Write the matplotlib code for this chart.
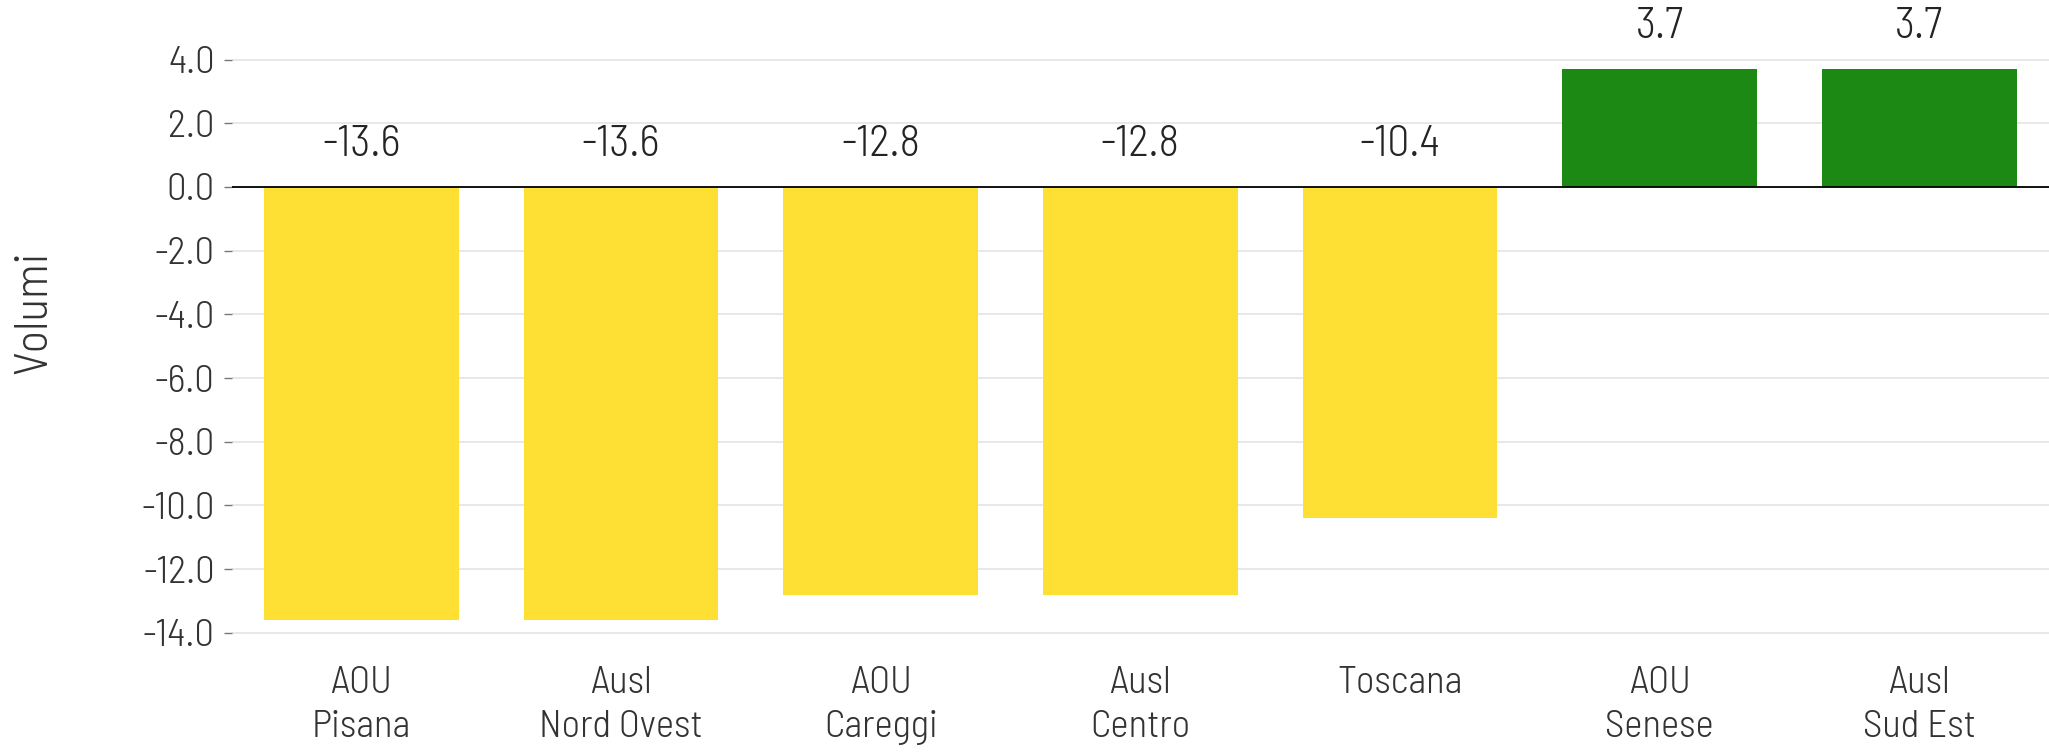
import matplotlib
matplotlib.use("Agg")
import matplotlib.pyplot as plt

categories = ["AOU\nPisana", "Ausl\nNord Ovest", "AOU\nCareggi", "Ausl\nCentro",
              "Toscana", "AOU\nSenese", "Ausl\nSud Est"]
values = [-13.6, -13.6, -12.8, -12.8, -10.4, 3.7, 3.7]
yticks = [4.0, 2.0, 0.0, -2.0, -4.0, -6.0, -8.0, -10.0, -12.0, -14.0]
ylabel = "Volumi"

YELLOW = "#FDE033"
GREEN = "#1B8913"
colors = [GREEN if v > 0 else YELLOW for v in values]

plt.rcParams["font.family"] = ["Barlow Semi Condensed", "DejaVu Sans"]
plt.rcParams["font.weight"] = 300

fig = plt.figure(figsize=(20.49, 7.55), dpi=100)
ax = fig.add_axes([0.113, 0.145, 0.887, 0.793])

x = list(range(len(values)))
ax.bar(x, values, width=0.75, color=colors, zorder=3)
ax.axhline(0, color="black", lw=1.3, zorder=4)

for xi, v in zip(x, values):
    ax.annotate(f"{v:.1f}", xy=(xi, max(v, 0)), xytext=(0, 16), textcoords="offset points",
                ha="center", va="bottom", fontsize=31.5, color="#252423",
                fontweight=300, annotation_clip=False)

ax.set_xlim(-0.5, len(values) - 0.5)
ax.set_ylim(-14.4, 4.4)
ax.set_yticks(yticks)
ax.set_yticklabels([f"{t:.1f}" for t in yticks], fontsize=28, color="#333333", fontweight=300)
ax.set_xticks(x)
ax.set_xticklabels(categories, fontsize=28, color="#333333", linespacing=1.32, fontweight=300)
ax.tick_params(axis="x", length=0, pad=15)
ax.tick_params(axis="y", length=6, width=1, color="#777777", pad=6)
ax.grid(axis="y", color="#e6e6e6", lw=1.3, zorder=0)
for s in ax.spines.values():
    s.set_visible(False)

ax.set_ylabel(ylabel, fontsize=34, color="#333333", fontweight=300)
ax.yaxis.set_label_coords(-0.097, 0.557)

fig.savefig("out.png", dpi=100)
